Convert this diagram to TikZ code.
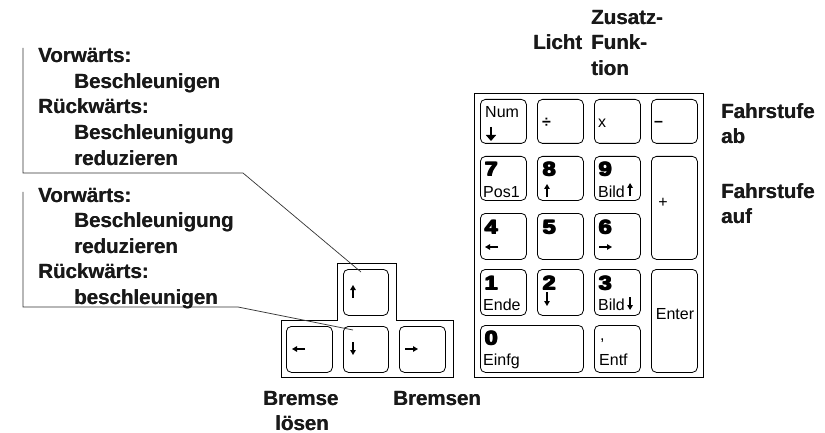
\documentclass[tikz,border=0pt]{standalone}
\usepackage{fontspec}
\usetikzlibrary{arrows.meta}
\setmainfont{Liberation Sans}
\newcommand\hvy[1]{\scalebox{1.2}[1]{\rlap{#1}\rlap{\hspace{0.9pt}#1}\rlap{\raisebox{0.6pt}{#1}}\hspace{0.9pt}\raisebox{0.6pt}{#1}}}
\newcommand\hvl[1]{\rlap{#1}\hspace{0.35pt}#1}
\begin{document}
\begin{tikzpicture}[x=1pt,y=-1pt,
  lbl/.style={font=\fontsize{20.5}{24}\selectfont\bfseries, anchor=base west, inner sep=0, text=black!90},
  key/.style={draw, rounded corners=5, line width=0.8, anchor=north west, inner sep=0},
  klbl/.style={font=\fontsize{16}{18}\selectfont, anchor=base west, inner sep=0},
  kdig/.style={font=\fontsize{19.5}{22}\selectfont\bfseries, anchor=base west, inner sep=0},
  karrow/.style={line width=1.2, -{Triangle[length=5pt,width=5.5pt]}},
  callout/.style={draw=black!80, line width=0.7},
  frame/.style={draw, line width=1.2}
]
\useasboundingbox (0,0) rectangle (825,433);

% ---------- numeric keypad ----------
\node[frame, anchor=north west, minimum width=229, minimum height=284, inner sep=0] (pad) at (473.5,93) {};

\node[key, minimum width=46, minimum height=44] (knum) at (480,99) {};
\node[key, minimum width=46, minimum height=44] (kdiv) at (537,99) {};
\node[key, minimum width=46, minimum height=44] (kmul) at (594,99) {};
\node[key, minimum width=46, minimum height=44] (kmin) at (651,99) {};

\node[key, minimum width=46, minimum height=44] (k7) at (480,156) {};
\node[key, minimum width=46, minimum height=44] (k8) at (537,156) {};
\node[key, minimum width=46, minimum height=44] (k9) at (594,156) {};
\node[key, minimum width=46, minimum height=103] (kplus) at (651,156) {};

\node[key, minimum width=46, minimum height=46] (k4) at (480,213) {};
\node[key, minimum width=46, minimum height=46] (k5) at (537,213) {};
\node[key, minimum width=46, minimum height=46] (k6) at (594,213) {};

\node[key, minimum width=46, minimum height=46] (k1) at (480,269) {};
\node[key, minimum width=46, minimum height=46] (k2) at (537,269) {};
\node[key, minimum width=46, minimum height=46] (k3) at (594,269) {};
\node[key, minimum width=46, minimum height=103] (kenter) at (651,269) {};

\node[key, minimum width=103, minimum height=47] (k0) at (480,325) {};
\node[key, minimum width=46, minimum height=47] (kdel) at (594,325) {};

% key labels
\node[klbl] (tnum) at (485,118) {Num};
\draw[line width=2.2, -{Triangle[length=6pt,width=10pt]}] (491,127) -- (491,141);
\node[klbl, font=\fontsize{16}{18}\selectfont\bfseries] (tdiv) at (542,128) {÷};
\node[klbl] (tmul) at (598,128) {x};
\node[klbl, font=\fontsize{16}{18}\selectfont\bfseries] (tmin) at (654,127) {–};

\node[kdig] (d7) at (484,176) {\hvy{7}};
\node[klbl] (t7) at (483,197) {Pos1};
\node[kdig] (d8) at (542,176) {\hvy{8}};
\draw[karrow] (547,197) -- (547,184);
\node[kdig] (d9) at (598,176) {\hvy{9}};
\node[klbl] (t9) at (598,197) {Bild};
\draw[karrow] (t9.base east) ++(5,-1) -- ++(0,-13);
\node[klbl, anchor=center] (tplus) at (663,203) {+};

\node[kdig] (d4) at (484,234) {\hvy{4}};
\draw[karrow] (498,247) -- (485,247);
\node[kdig] (d5) at (542,234) {\hvy{5}};
\node[kdig] (d6) at (598,234) {\hvy{6}};
\draw[karrow] (599,247) -- (612,247);

\node[kdig] (d1) at (484,290) {\hvy{1}};
\node[klbl] (t1) at (483,310) {Ende};
\node[kdig] (d2) at (542,290) {\hvy{2}};
\draw[karrow] (547,292) -- (547,306);
\node[kdig] (d3) at (598,290) {\hvy{3}};
\node[klbl] (t3) at (598,310) {Bild};
\draw[karrow] (t3.base east) ++(5,-13) -- ++(0,13);
\node[klbl, anchor=center] (tenter) at (675,314) {Enter};

\node[kdig] (d0) at (484,345) {\hvy{0}};
\node[klbl] (t0) at (483,365) {Einfg};
\node[klbl] (tcomma) at (600,340) {,};
\node[klbl] (tdel) at (599,365) {Entf};

% ---------- arrow key cluster ----------
\draw[line width=0.8] (281,377) -- (281,320) -- (337,320) -- (337,263) -- (396,263) -- (396,320) -- (453,320) -- (453,377) -- cycle;
\node[key, minimum width=45, minimum height=46] (kup) at (343,269) {};
\node[key, minimum width=46, minimum height=46] (kleft) at (286,326) {};
\node[key, minimum width=45, minimum height=46] (kdown) at (343,326) {};
\node[key, minimum width=46, minimum height=46] (kright) at (399,326) {};
\draw[karrow] (353,298) -- (353,285);
\draw[karrow] (305,349) -- (292,349);
\draw[karrow] (353,342) -- (353,355);
\draw[karrow] (405,349) -- (418,349);

% ---------- callouts ----------
\coordinate (c1a) at (23,48);
\coordinate (c1b) at (243,173);
\draw[callout] (c1a) |- (c1b) -- ([shift={(18,3)}]kup.north west);
\coordinate (c2a) at (23,192);
\coordinate (c2b) at (238,307);
\draw[callout] (c2a) |- (c2b) -- ([shift={(10,4)}]kdown.north west);

\node[lbl] (v1) at (38,63) {\hvl{Vorwärts:}};
\node[lbl] (v1a) at (74,88.5) {\hvl{Beschleunigen}};
\node[lbl] (r1) at (38,114) {\hvl{Rückwärts:}};
\node[lbl] (r1a) at (74,139.5) {\hvl{Beschleunigung}};
\node[lbl] (r1b) at (74,165) {\hvl{reduzieren}};

\node[lbl] (v2) at (38,202) {\hvl{Vorwärts:}};
\node[lbl] (v2a) at (74,227.5) {\hvl{Beschleunigung}};
\node[lbl] (v2b) at (74,253) {\hvl{reduzieren}};
\node[lbl] (r2) at (38,278.5) {\hvl{Rückwärts:}};
\node[lbl] (r2a) at (74,304) {\hvl{beschleunigen}};

% ---------- other labels ----------
\node[lbl] (zus) at (591,24.5) {\hvl{Zusatz-}};
\node[lbl] (licht) at (533,50) {\hvl{Licht}};
\node[lbl] (funk) at (591,50) {\hvl{Funk-}};
\node[lbl] (tion) at (591,75.5) {\hvl{tion}};

\node[lbl] (fab1) at (721,119) {\hvl{Fahrstufe}};
\node[lbl] (fab2) at (721,144) {\hvl{ab}};
\node[lbl] (fauf1) at (721,199) {\hvl{Fahrstufe}};
\node[lbl] (fauf2) at (721,223) {\hvl{auf}};

\node[lbl] (br1) at (263,405) {\hvl{Bremse}};
\node[lbl] (br2) at (275,430) {\hvl{lösen}};
\node[lbl] (brn) at (393,405) {\hvl{Bremsen}};
\end{tikzpicture}
\end{document}
